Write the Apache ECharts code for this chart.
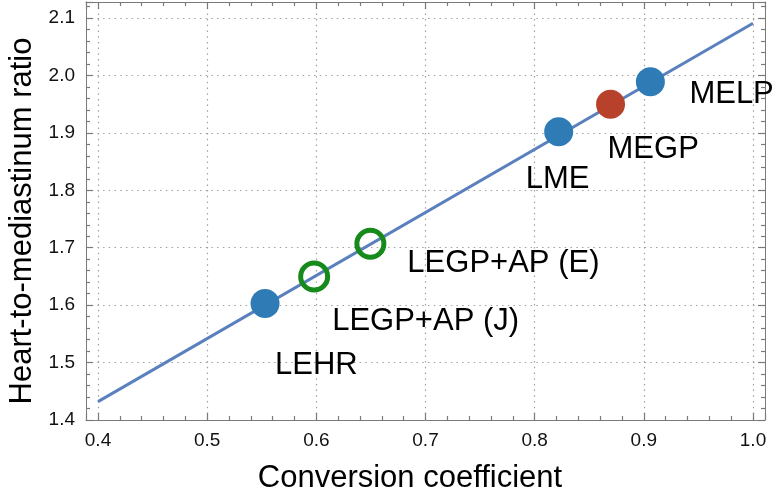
<!DOCTYPE html>
<html>
<head>
<meta charset="utf-8">
<script src="https://cdn.jsdelivr.net/npm/echarts@6/dist/echarts.min.js"></script>
<style>
  html, body { margin: 0; padding: 0; background: #fff; }
  #chart { width: 774px; height: 491px; }
</style>
</head>
<body>
<div id="chart"></div>
<script>
// ---- data ----
const collimators = ['LEHR', 'LEGP+AP (J)', 'LEGP+AP (E)', 'LME', 'MEGP', 'MELP'];
const conversionCoef = [0.553, 0.598, 0.6495, 0.822, 0.8695, 0.906];
const hmRatio = [1.603, 1.650, 1.707, 1.902, 1.950, 1.989];
const markerGroup = ['blue', 'green', 'green', 'blue', 'red', 'blue'];
const fitLineX = [0.4, 1.0];
const fitLineY = [1.432, 2.091];
const xAxisTitle = 'Conversion coefficient';
const yAxisTitle = 'Heart-to-mediastinum ratio';

// ---- presentation ----
const FONT = '"Liberation Sans", Arial, Helvetica, sans-serif';
const labelOffsets = [[10, 62], [18, 45], [37, 20], [-33, 48], [-3, 45], [39, 13]];
const groupStyle = {
  blue:  { size: 29, itemStyle: { color: '#2e7bb6' } },
  red:   { size: 29, itemStyle: { color: '#b8412b' } },
  green: { size: 27, itemStyle: { color: 'rgba(0,0,0,0)', borderColor: '#168a1a', borderWidth: 5 } }
};
const frameColor = '#7a7a7a';
const xMin = 0.389, xMax = 1.011, yMin = 1.4, yMax = 2.128;

function buildPointSeries(group) {
  const data = [];
  collimators.forEach((name, i) => {
    if (markerGroup[i] !== group) return;
    data.push({
      name: name,
      value: [conversionCoef[i], hmRatio[i]],
      label: { offset: labelOffsets[i] }
    });
  });
  const st = groupStyle[group];
  return {
    type: 'scatter',
    symbol: 'circle',
    symbolSize: st.size,
    itemStyle: Object.assign({ opacity: 1 }, st.itemStyle),
    z: 5,
    data: data,
    label: {
      show: true,
      position: 'inside',
      align: 'left',
      verticalAlign: 'middle',
      formatter: p => p.name,
      fontFamily: FONT,
      fontSize: 31,
      color: '#000'
    }
  };
}

function axis(extra) {
  const base = {
    type: 'value',
    minInterval: 0.1,
    maxInterval: 0.1,
    axisLine: { show: true, lineStyle: { color: frameColor, width: 1 } },
    axisTick: { show: true, inside: true, length: 7, lineStyle: { color: frameColor, width: 1.2 } },
    minorTick: { show: true, splitNumber: 5, length: 4, lineStyle: { color: frameColor, width: 1.2 } },
    minorSplitLine: { show: false }
  };
  return Object.assign(base, extra);
}

const chart = echarts.init(document.getElementById('chart'), null, { renderer: 'canvas' });
chart.setOption({
  animation: false,
  backgroundColor: '#fff',
  grid: { left: 86, right: 9, top: 2, bottom: 71, containLabel: false, outerBoundsMode: 'none' },
  xAxis: [
    axis({
      position: 'bottom', min: xMin, max: xMax,
      axisLabel: { show: true, fontFamily: FONT, fontSize: 19, color: '#111', margin: 11,
                   showMinLabel: false, showMaxLabel: false, formatter: v => v.toFixed(1) },
      splitLine: { show: true, showMinLine: false, showMaxLine: false,
                   lineStyle: { color: '#a0a0a0', type: [1.5, 4.2], width: 1.2 } }
    }),
    axis({
      position: 'top', min: xMin, max: xMax,
      axisLabel: { show: false }, splitLine: { show: false }
    })
  ],
  yAxis: [
    axis({
      position: 'left', min: yMin, max: yMax,
      axisLabel: { show: true, fontFamily: FONT, fontSize: 19, color: '#111', margin: 11,
                   showMinLabel: true, showMaxLabel: false, formatter: v => v.toFixed(1) },
      splitLine: { show: true, showMinLine: false, showMaxLine: false,
                   lineStyle: { color: '#a0a0a0', type: [1.5, 4.2], width: 1.2 } }
    }),
    axis({
      position: 'right', min: yMin, max: yMax,
      axisLabel: { show: false }, splitLine: { show: false }
    })
  ],
  series: [
    {
      type: 'line',
      data: fitLineX.map((x, i) => [x, fitLineY[i]]),
      symbol: 'none',
      lineStyle: { color: '#5b80be', width: 3 },
      z: 3
    },
    buildPointSeries('blue'),
    buildPointSeries('red'),
    buildPointSeries('green')
  ],
  graphic: [
    {
      type: 'text', x: 410, y: 478,
      style: { text: xAxisTitle, font: '31px ' + FONT, fill: '#000', textAlign: 'center', textVerticalAlign: 'middle' }
    },
    {
      type: 'text', x: 22, y: 221, rotation: Math.PI / 2,
      style: { text: yAxisTitle, font: '31px ' + FONT, fill: '#000', textAlign: 'center', textVerticalAlign: 'middle' }
    }
  ]
});
</script>
</body>
</html>
